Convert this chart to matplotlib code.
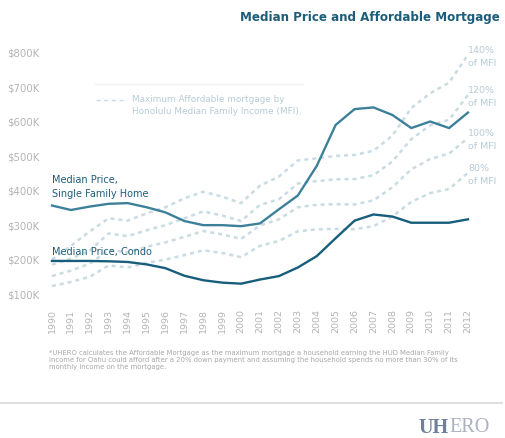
import matplotlib
matplotlib.use("Agg")
import matplotlib.pyplot as plt
from matplotlib.lines import Line2D

plt.rcParams['font.family'] = ['DejaVu Sans']

years = list(range(1990, 2013))

# median prices, $K
single_family = [357, 344, 354, 362, 364, 352, 337, 312, 300, 300, 297, 305, 346,
                 386, 472, 591, 637, 642, 620, 582, 601, 582, 627]
condo = [196, 196, 196, 195, 193, 186, 175, 153, 140, 133, 130, 142, 152,
         177, 210, 262, 313, 331, 325, 307, 307, 307, 317]

# maximum affordable mortgage by share of median family income, $K
mfi_80 = [123, 135, 150, 183, 177, 190, 200, 213, 227, 219, 207, 240, 254,
          282, 288, 289, 288, 297, 325, 368, 393, 405, 452]
mfi_100 = [152, 168, 188, 228, 221, 237, 250, 266, 283, 273, 260, 299, 317,
           352, 359, 361, 360, 372, 410, 462, 492, 508, 553]
mfi_120 = [185, 203, 226, 276, 268, 285, 300, 320, 340, 328, 312, 359, 375,
           421, 428, 433, 434, 445, 485, 550, 590, 606, 678]
mfi_140 = [200, 240, 282, 320, 313, 334, 352, 378, 397, 383, 364, 415, 441,
           488, 494, 501, 504, 516, 560, 640, 683, 714, 795]

mfi_series = [mfi_80, mfi_100, mfi_120, mfi_140]
mfi_labels = ["80%\nof MFI", "100%\nof MFI", "120%\nof MFI", "140%\nof MFI"]

y_ticks = [100, 200, 300, 400, 500, 600, 700, 800]
y_tick_labels = ["$100K", "$200K", "$300K", "$400K", "$500K", "$600K", "$700K", "$800K"]

TITLE_C = "#1d5d79"
SF_C = "#3d8099"
CONDO_C = "#175e7d"
DOT_C = "#c9dbe3"
LABEL_LIGHT = "#b7ccd6"
GRAY = "#b4b4b4"

W, H = 506, 438
fig = plt.figure(figsize=(W / 100, H / 100), dpi=100)
ax = fig.add_axes([52 / W, (H - 294) / H, (468 - 52) / W, (294 - 53) / H])

for s in mfi_series:
    ax.plot(years, s, color=DOT_C, lw=1.8, ls=(0, (1.6, 1.6)), clip_on=False)
ax.plot(years, single_family, color=SF_C, lw=1.7, clip_on=False, solid_joinstyle="round")
ax.plot(years, condo, color=CONDO_C, lw=1.7, clip_on=False, solid_joinstyle="round")

ax.set_xlim(1990, 2012)
ax.set_ylim(100, 800)
for sp in ax.spines.values():
    sp.set_visible(False)
ax.set_yticks(y_ticks)
ax.set_yticklabels(y_tick_labels)
ax.set_xticks(years)
ax.set_xticklabels([str(y) for y in years], rotation=90, va="top")
ax.tick_params(axis="y", length=0, pad=9, labelsize=7.3, labelcolor=GRAY)
ax.tick_params(axis="x", length=0, pad=11, labelsize=6.8, labelcolor=GRAY)

# series labels
ax.text(1990, 377, "Median Price,\nSingle Family Home", color=TITLE_C, fontsize=7,
        ha="left", va="bottom", linespacing=1.4)
ax.text(1990, 208, "Median Price, Condo", color=TITLE_C, fontsize=7,
        ha="left", va="bottom")
for s, lab in zip(mfi_series, mfi_labels):
    ax.text(2012.0, s[-1] - 6, lab, color=LABEL_LIGHT, fontsize=6.8,
            ha="left", va="center", linespacing=1.5)

# legend for the dotted lines
fig.add_artist(Line2D([95 / W, 303 / W], [(H - 84) / H] * 2, color="#f2f2f2", lw=1))
fig.add_artist(Line2D([96 / W, 124 / W], [(H - 100) / H] * 2, color=DOT_C,
                      lw=1, ls=(0, (3, 2.5))))
fig.text(132 / W, (H - 95) / H, "Maximum Affordable mortgage by\nHonolulu Median Family Income (MFI).",
         color=LABEL_LIGHT, fontsize=6.4, ha="left", va="top", linespacing=1.4)

fig.text(500 / W, (H - 17) / H, "Median Price and Affordable Mortgage", color=TITLE_C,
         fontsize=8.6, fontweight="bold", ha="right", va="center")

note = ("*UHERO calculates the Affordable Mortgage as the maximum mortgage a household earning the HUD Median Family\n"
        "Income for Oahu could afford after a 20% down payment and assuming the household spends no more than 30% of its\n"
        "monthly income on the mortgage.")
fig.text(49 / W, (H - 350) / H, note, color="#a8a8a8", fontsize=4.95, ha="left", va="top",
         linespacing=1.25)

fig.add_artist(Line2D([0, 502 / W], [(H - 403) / H] * 2, color="#d9d9d9", lw=1.2))

fig.text(418 / W, (H - 428) / H, "UH", color="#6f809c", fontsize=14.5,
         family="Liberation Serif", fontweight="bold", ha="left", va="center")
fig.text(449 / W, (H - 428) / H, "ERO", color="#aab2c0", fontsize=14.5,
         family="Liberation Serif", ha="left", va="center")

fig.savefig("out.png", dpi=100)
